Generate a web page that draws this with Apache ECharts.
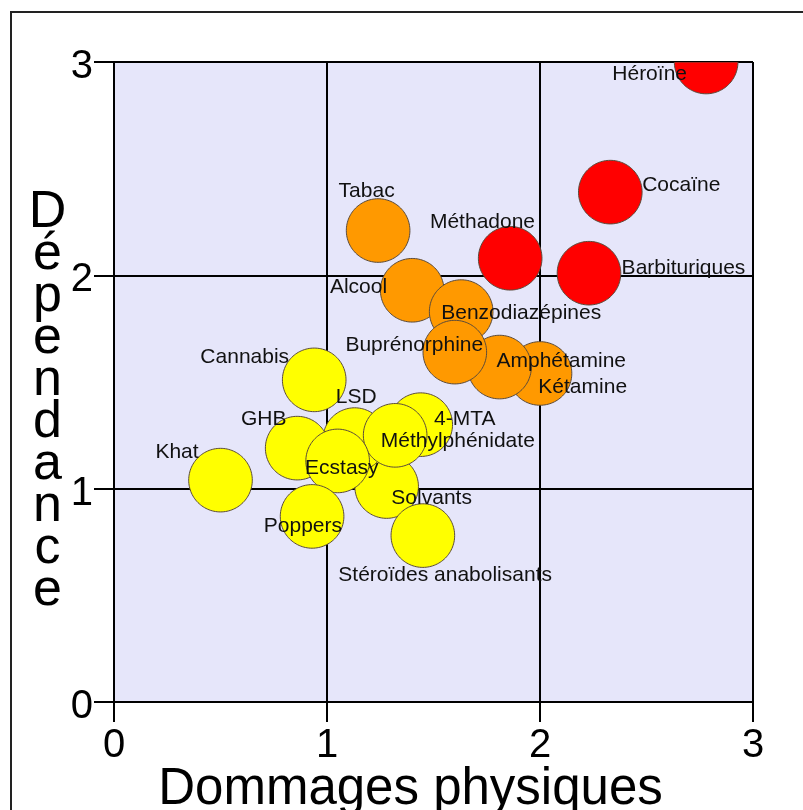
<!DOCTYPE html>
<html>
<head>
<meta charset="utf-8">
<script src="https://cdn.jsdelivr.net/npm/echarts@6/dist/echarts.min.js"></script>
<style>
html,body{margin:0;padding:0;background:#fff;}
#chart{width:803px;height:810px;}
</style>
</head>
<body>
<div id="chart"></div>
<script>
// ---- data ----
const drugs = ['Héroïne','Cocaïne','Barbituriques','Méthadone','Alcool','Kétamine','Benzodiazépines','Amphétamine','Tabac','Buprénorphine','Cannabis','Solvants','4-MTA','LSD','Méthylphénidate','Stéroïdes anabolisants','GHB','Ecstasy','Poppers','Khat'];
const physicalHarm = [2.78, 2.33, 2.23, 1.86, 1.40, 2.00, 1.63, 1.81, 1.24, 1.60, 0.94, 1.28, 1.44, 1.13, 1.32, 1.45, 0.86, 1.05, 0.93, 0.50];
const dependence   = [3.00, 2.39, 2.01, 2.08, 1.93, 1.54, 1.83, 1.57, 2.21, 1.64, 1.51, 1.01, 1.30, 1.23, 1.25, 0.78, 1.19, 1.13, 0.87, 1.04];
const groups = ['rouge','rouge','rouge','rouge','orange','orange','orange','orange','orange','orange','jaune','jaune','jaune','jaune','jaune','jaune','jaune','jaune','jaune','jaune'];
const xTickValues = [0, 1, 2, 3];
const yTickValues = [0, 1, 2, 3];
const xTitle = 'Dommages physiques';
const yTitle = 'Dépendance';

// ---- styles ----
const groupColors = { rouge: '#ff0000', orange: '#ff9900', jaune: '#ffff00' };
// label offsets (px) from each bubble centre
const labelOffsets = [
  [-56.5, 10.5], [71, -8.5], [94.5, -6], [-27.7, -38], [-53.7, -4.5],
  [42.7, 11.8], [60, 0], [61.7, -7.8], [-11.5, -41], [-40.5, -8.8],
  [-69.5, -23.7], [45, 10], [44, -6.5], [1.5, -44], [62.6, 4.2],
  [22.3, 38], [-33.5, -30], [4.2, 6], [-9.2, 8], [-43.5, -29.7]
];
const LABEL_SHIFT_Y = 1.5;
const BUBBLE_R = 31.8;
const FONT = 'Liberation Sans, Arial, Helvetica, sans-serif';

const chart = echarts.init(document.getElementById('chart'), null, { renderer: 'canvas' });

const seriesData = drugs.map((n, i) => [physicalHarm[i], dependence[i], i]);

const axisCommon = {
  type: 'value',
  interval: 1,
  axisLine: { show: true, onZero: false, lineStyle: { color: '#000', width: 2 } },
  axisTick: { show: true, inside: false, length: 20, lineStyle: { color: '#000', width: 2 } },
  splitLine: { show: true, lineStyle: { color: '#000', width: 2 } }
};

chart.setOption({
  animation: false,
  backgroundColor: '#ffffff',
  grid: {
    left: 114, right: 50, top: 62, bottom: 108,
    show: true, backgroundColor: '#e6e6fa', borderWidth: 0,
    containLabel: false, outerBoundsMode: 'none'
  },
  xAxis: Object.assign({}, axisCommon, {
    min: xTickValues[0], max: xTickValues[xTickValues.length - 1],
    axisLabel: { fontSize: 40, color: '#000', fontFamily: FONT, margin: 24 },
    name: xTitle,
    nameLocation: 'middle',
    nameGap: 62,
    nameMoveOverlap: false,
    nameTextStyle: { fontSize: 51, lineHeight: 51, color: '#000', fontFamily: FONT, padding: [0, 46, 0, 0] }
  }),
  yAxis: Object.assign({}, axisCommon, {
    min: yTickValues[0], max: yTickValues[yTickValues.length - 1],
    axisLabel: { fontSize: 40, color: '#000', fontFamily: FONT, margin: 21, verticalAlign: 'top', lineHeight: 10 }
  }),
  graphic: [
    {
      type: 'rect', z: 100, silent: true,
      shape: { x: 11, y: 12, width: 1000, height: 1000 },
      style: { fill: 'none', stroke: '#222', lineWidth: 2 }
    },
    {
      type: 'text', z: 100, silent: true,
      x: 47.5, y: 401.5,
      style: {
        text: yTitle.split('').join('\n'),
        fontSize: 52, lineHeight: 42, fontFamily: FONT, fill: '#000',
        align: 'center', verticalAlign: 'middle'
      }
    }
  ],
  series: [{
    type: 'custom',
    clip: true,
    coordinateSystem: 'cartesian2d',
    encode: { x: 0, y: 1 },
    data: seriesData,
    renderItem: function (params, api) {
      const i = api.value(2);
      const p = api.coord([api.value(0), api.value(1)]);
      const off = labelOffsets[i];
      // plotting area corners from the axes
      const tl = api.coord([xTickValues[0], yTickValues[yTickValues.length - 1]]);
      const br = api.coord([xTickValues[xTickValues.length - 1], yTickValues[0]]);
      const x0 = Math.min(tl[0], br[0]), x1 = Math.max(tl[0], br[0]);
      const y0 = Math.min(tl[1], br[1]), y1 = Math.max(tl[1], br[1]);
      // bubble outline, clipped to the plotting area
      const pts = [];
      const N = 120;
      for (let k = 0; k < N; k++) {
        const a = (k / N) * Math.PI * 2;
        let px = p[0] + BUBBLE_R * Math.cos(a);
        let py = p[1] + BUBBLE_R * Math.sin(a);
        px = Math.min(Math.max(px, x0), x1);
        py = Math.min(Math.max(py, y0), y1);
        pts.push([px, py]);
      }
      return {
        type: 'group',
        children: [
          {
            type: 'polygon',
            shape: { points: pts },
            style: { fill: groupColors[groups[i]], stroke: '#5a4a3a', lineWidth: 1 },
            z2: i
          },
          {
            type: 'text',
            x: p[0] + off[0], y: p[1] + off[1] + LABEL_SHIFT_Y,
            z2: 1000,
            style: {
              text: drugs[i], fontSize: 21, fontFamily: FONT, fill: '#111',
              align: 'center', verticalAlign: 'middle'
            }
          }
        ]
      };
    }
  }]
});
</script>
</body>
</html>
